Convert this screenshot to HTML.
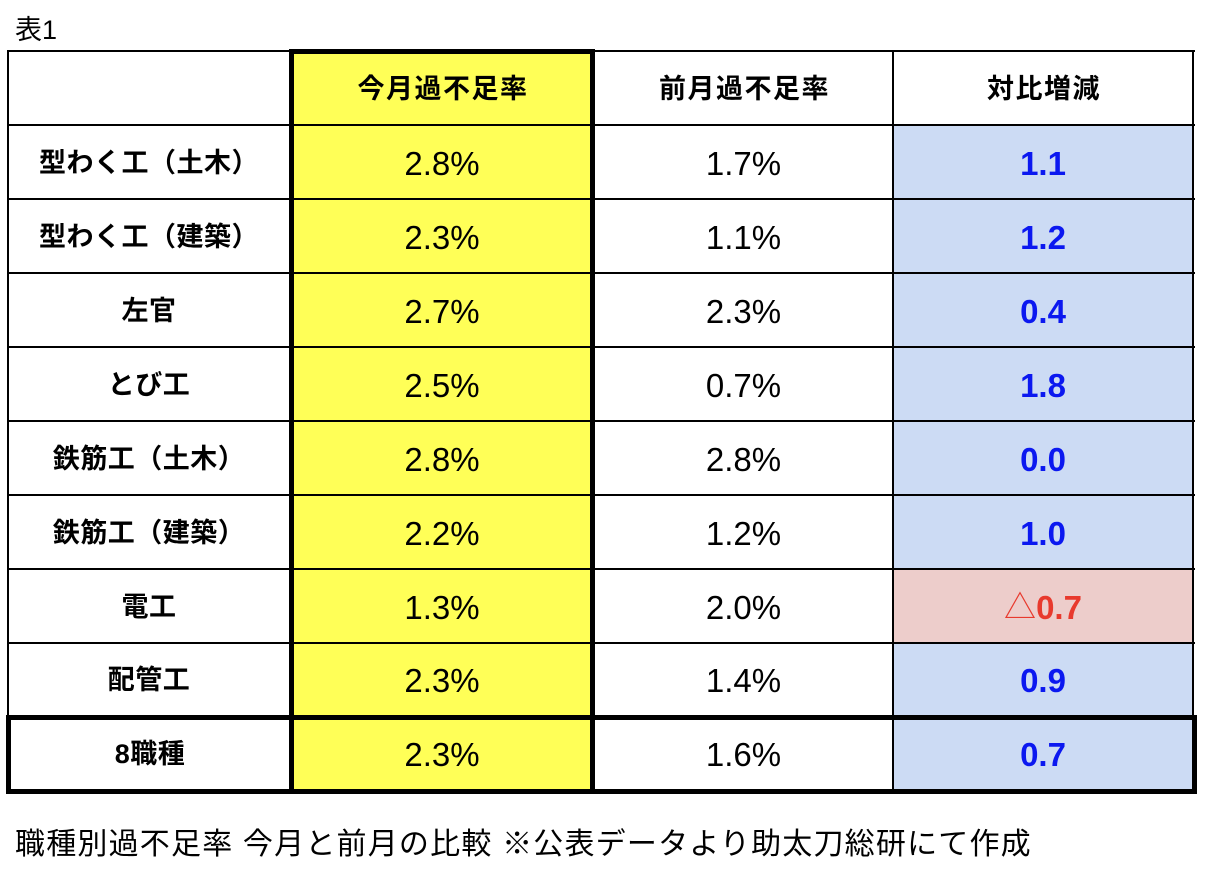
<!DOCTYPE html>
<html>
<head>
<meta charset="utf-8">
<style>
  html, body { margin:0; padding:0; }
  body { width:1216px; height:894px; background:#ffffff; position:relative; overflow:hidden;
         font-family:"Liberation Sans","Noto Sans CJK JP",sans-serif; color:#000; }
  .abs { position:absolute; }
  .ln { position:absolute; background:#000; }
  .cell { position:absolute; display:flex; align-items:center; justify-content:center; line-height:1; white-space:nowrap; }
  .hd { font-weight:bold; font-size:27px; letter-spacing:1.5px; }
  .lb { font-weight:bold; font-size:27px; letter-spacing:0.5px; }
  .vl { font-size:33px; }
  .bl { font-weight:bold; font-size:33px; color:#0b18f0; }
  .rd { font-weight:bold; font-size:33px; color:#e8392d; }
</style>
</head>
<body>
<div class="abs" style="left:15px;top:14px;font-size:27px;line-height:32px;">表1</div>

<!-- fills -->
<div class="abs" style="left:294px;top:54px;width:296px;height:735px;background:#ffff57;"></div>
<div class="abs" style="left:894px;top:126px;width:298px;height:663px;background:#ccdbf4;"></div>
<div class="abs" style="left:894px;top:570px;width:298px;height:72px;background:#edcdcb;"></div>

<!-- thin horizontal lines -->
<div class="ln" style="left:7px;top:50px;width:1188px;height:2px;"></div>
<div class="ln" style="left:7px;top:124px;width:1188px;height:2px;"></div>
<div class="ln" style="left:7px;top:198px;width:1188px;height:2px;"></div>
<div class="ln" style="left:7px;top:272px;width:1188px;height:2px;"></div>
<div class="ln" style="left:7px;top:346px;width:1188px;height:2px;"></div>
<div class="ln" style="left:7px;top:420px;width:1188px;height:2px;"></div>
<div class="ln" style="left:7px;top:494px;width:1188px;height:2px;"></div>
<div class="ln" style="left:7px;top:568px;width:1188px;height:2px;"></div>
<div class="ln" style="left:7px;top:642px;width:1188px;height:2px;"></div>

<!-- thin verticals -->
<div class="ln" style="left:7px;top:50px;width:2px;height:666px;"></div>
<div class="ln" style="left:892px;top:50px;width:2px;height:742px;"></div>
<div class="ln" style="left:1192px;top:50px;width:2px;height:666px;"></div>

<!-- thick last row box -->
<div class="ln" style="left:6px;top:715px;width:1191px;height:5px;"></div>
<div class="ln" style="left:6px;top:789px;width:1191px;height:5px;"></div>
<div class="ln" style="left:6px;top:715px;width:5px;height:79px;"></div>
<div class="ln" style="left:1192px;top:715px;width:5px;height:79px;"></div>

<!-- thick yellow column box -->
<div class="ln" style="left:289px;top:49px;width:306px;height:5px;"></div>
<div class="ln" style="left:289px;top:49px;width:5px;height:745px;"></div>
<div class="ln" style="left:590px;top:49px;width:5px;height:745px;"></div>

<!-- header -->
<div class="cell hd" style="left:294px;top:52px;width:298px;height:74px;">今月過不足率</div>
<div class="cell hd" style="left:595px;top:52px;width:299px;height:74px;">前月過不足率</div>
<div class="cell hd" style="left:894px;top:52px;width:300px;height:74px;">対比増減</div>

<!-- rows -->
<div class="cell lb" style="left:9px;top:126px;width:280px;height:74px;">型わく工（土木）</div>
<div class="cell vl" style="left:294px;top:126px;width:296px;height:74px;">2.8%</div>
<div class="cell vl" style="left:595px;top:126px;width:297px;height:74px;">1.7%</div>
<div class="cell bl" style="left:894px;top:126px;width:298px;height:74px;">1.1</div>

<div class="cell lb" style="left:9px;top:200px;width:280px;height:74px;">型わく工（建築）</div>
<div class="cell vl" style="left:294px;top:200px;width:296px;height:74px;">2.3%</div>
<div class="cell vl" style="left:595px;top:200px;width:297px;height:74px;">1.1%</div>
<div class="cell bl" style="left:894px;top:200px;width:298px;height:74px;">1.2</div>

<div class="cell lb" style="left:9px;top:274px;width:280px;height:74px;">左官</div>
<div class="cell vl" style="left:294px;top:274px;width:296px;height:74px;">2.7%</div>
<div class="cell vl" style="left:595px;top:274px;width:297px;height:74px;">2.3%</div>
<div class="cell bl" style="left:894px;top:274px;width:298px;height:74px;">0.4</div>

<div class="cell lb" style="left:9px;top:348px;width:280px;height:74px;">とび工</div>
<div class="cell vl" style="left:294px;top:348px;width:296px;height:74px;">2.5%</div>
<div class="cell vl" style="left:595px;top:348px;width:297px;height:74px;">0.7%</div>
<div class="cell bl" style="left:894px;top:348px;width:298px;height:74px;">1.8</div>

<div class="cell lb" style="left:9px;top:422px;width:280px;height:74px;">鉄筋工（土木）</div>
<div class="cell vl" style="left:294px;top:422px;width:296px;height:74px;">2.8%</div>
<div class="cell vl" style="left:595px;top:422px;width:297px;height:74px;">2.8%</div>
<div class="cell bl" style="left:894px;top:422px;width:298px;height:74px;">0.0</div>

<div class="cell lb" style="left:9px;top:496px;width:280px;height:74px;">鉄筋工（建築）</div>
<div class="cell vl" style="left:294px;top:496px;width:296px;height:74px;">2.2%</div>
<div class="cell vl" style="left:595px;top:496px;width:297px;height:74px;">1.2%</div>
<div class="cell bl" style="left:894px;top:496px;width:298px;height:74px;">1.0</div>

<div class="cell lb" style="left:9px;top:570px;width:280px;height:74px;">電工</div>
<div class="cell vl" style="left:294px;top:570px;width:296px;height:74px;">1.3%</div>
<div class="cell vl" style="left:595px;top:570px;width:297px;height:74px;">2.0%</div>
<div class="cell rd" style="left:894px;top:570px;width:298px;height:74px;"><span style="font-weight:normal;font-size:32px;">△</span>0.7</div>

<div class="cell lb" style="left:9px;top:644px;width:280px;height:72px;">配管工</div>
<div class="cell vl" style="left:294px;top:644px;width:296px;height:72px;">2.3%</div>
<div class="cell vl" style="left:595px;top:644px;width:297px;height:72px;">1.4%</div>
<div class="cell bl" style="left:894px;top:644px;width:298px;height:72px;">0.9</div>

<div class="cell lb" style="left:11px;top:720px;width:278px;height:69px;">8職種</div>
<div class="cell vl" style="left:294px;top:720px;width:296px;height:69px;">2.3%</div>
<div class="cell vl" style="left:595px;top:720px;width:297px;height:69px;">1.6%</div>
<div class="cell bl" style="left:894px;top:720px;width:298px;height:69px;">0.7</div>

<!-- caption -->
<div class="abs" style="left:15px;top:827px;font-size:30px;line-height:36px;letter-spacing:1.2px;white-space:nowrap;">職種別過不足率 今月と前月の比較 ※公表データより助太刀総研にて作成</div>
</body>
</html>
